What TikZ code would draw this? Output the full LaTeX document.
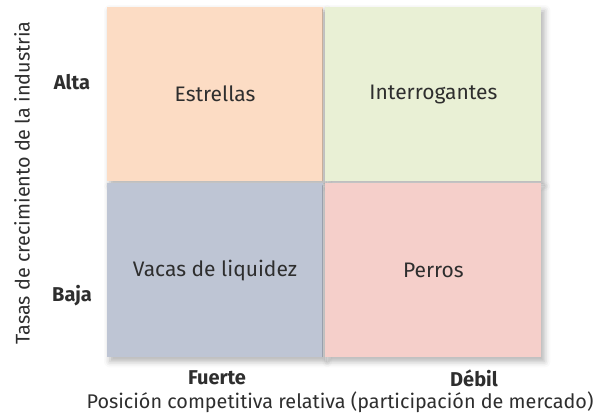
\documentclass[tikz,border=0pt]{standalone}
\usepackage{fontspec}
\setmainfont{Fira Sans}
\usepackage{xcolor}
\usetikzlibrary{positioning,shadows.blur}

\definecolor{estrellacol}{HTML}{FCDCC4}
\definecolor{interrogcol}{HTML}{E9F0D5}
\definecolor{vacacol}{HTML}{BEC5D4}
\definecolor{perrocol}{HTML}{F5CFCA}
\definecolor{textgray}{HTML}{2E2E2E}

\begin{document}
\begin{tikzpicture}[x=1pt,y=-1pt,node distance=2pt,
  quad/.style={minimum width=216pt,minimum height=174pt,inner sep=0pt,
    text=textgray,font=\fontsize{21}{24}\selectfont,
    blur shadow={shadow xshift=3pt,shadow yshift=-4pt,shadow blur radius=6pt,shadow opacity=30}},
  level/.style={text=textgray,font=\fontsize{20}{23}\selectfont\bfseries},
  axis label/.style={text=textgray,font=\fontsize{19.8}{23}\selectfont}]
  \useasboundingbox (0,0) rectangle (606,418);

  % cuadrantes
  \node[quad,fill=estrellacol] (estrellas) at (215,94) {Estrellas};
  \node[quad,fill=interrogcol,right=of estrellas] (interrog) {Interrogantes};
  \node[quad,fill=vacacol,below=of estrellas] (vacas) {Vacas de liquidez};
  \node[quad,fill=perrocol,right=of vacas] (perros) {Perros};

  % ejes
  \node[level] (alta) at (72,82) {Alta};
  \node[level] (baja) at (72,296) {Baja};
  \node[level] (fuerte) at (217,378) {Fuerte};
  \node[level] (debil) at (474,378) {Débil};
  \node[axis label] (xlabel) at (340,402) {Posición competitiva relativa (participación de mercado)};
  \node[axis label,rotate=90] (ylabel) at (22,183) {Tasas de crecimiento de la industria};
\end{tikzpicture}
\end{document}
